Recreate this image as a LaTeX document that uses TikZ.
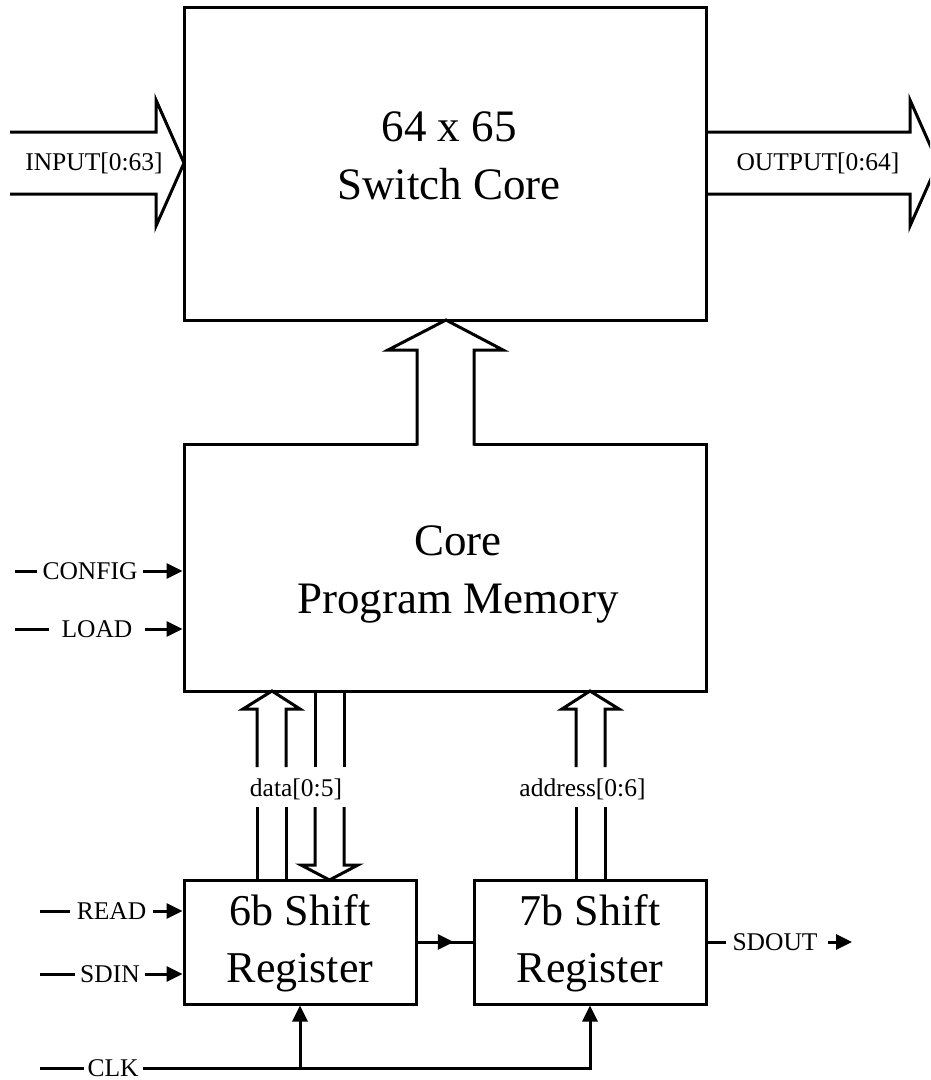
\documentclass[tikz,border=0pt]{standalone}
\usepackage{fontspec}
\setmainfont{Liberation Serif}
\usetikzlibrary{arrows.meta,calc}
\begin{document}
\begin{tikzpicture}[x=1pt,y=-1pt,line width=3pt,
  bigbox/.style={draw,minimum width=522pt,inner sep=0pt},
  regbox/.style={draw,minimum width=232pt,minimum height=124pt,inner sep=0pt},
  bigtxt/.style={font=\fontsize{45}{58}\selectfont,align=center,inner sep=0pt},
  regtxt/.style={font=\fontsize{44}{57}\selectfont,align=center,inner sep=0pt},
  lbl/.style={font=\fontsize{25.5}{30}\selectfont,inner ysep=0pt,inner xsep=4.5pt},
  tip/.style={-{Triangle[length=16pt,width=15pt]}},
  fat/.style={line join=miter}]
\clip (0,0) rectangle (930,1080);
% blocks
\node[bigbox,minimum height=313pt] (sw) at (445,163.5) {};
\node[bigtxt] (swt) at (449,156) {64 x 65\\Switch Core};
\node[bigbox,minimum height=247pt] (mem) at (445,567.5) {};
\node[bigtxt] (memt) at (458,574) {Core\\Program Memory};
\node[regbox] (r6) at (300,942) {};
\node[regtxt] (r6t) at (300,943) {6b Shift\\Register};
\node[regbox] (r7) at (590,942) {};
\node[regtxt] (r7t) at (590,943) {7b Shift\\Register};
% fat input / output arrows
\draw[fat] (10,132) -- (156,132) -- (156,100) -- (184,163) -- (156,226) -- (156,194) -- (10,194);
\node[lbl] (inl) at (94,163) {INPUT[0:63]};
\draw[fat] (706,132) -- (910,132) -- (910,100) -- (938,163) -- (910,226) -- (910,194) -- (706,194);
\node[lbl] (outl) at (818,163) {OUTPUT[0:64]};
% fat arrow memory -> switch core
\fill[white] (417,446) -- (417,350) -- (388,350) -- (446,320) -- (503,350) -- (474,350) -- (474,446) -- cycle;
\draw[fat] (417,445.5) -- (417,350) -- (388,350) -- (446,320) -- (503,350) -- (474,350) -- (474,445.5);
% data bus
\node[lbl] (dl) at (296,789) {data[0:5]};
\draw[fat] (257,767) -- (257,709) -- (243,709) -- (272,691) -- (300,709) -- (286,709) -- (286,767);
\draw (257,807) -- (257,880) (286,807) -- (286,880);
\draw (315,767) -- (315,691) (344,767) -- (344,691);
\draw[fat] (315,807) -- (315,865) -- (301,865) -- (329.5,880) -- (358,865) -- (344,865) -- (344,807);
% address bus
\node[lbl] (al) at (582.5,789) {address[0:6]};
\draw[fat] (576,767) -- (576,709) -- (562,709) -- (590,691) -- (619,709) -- (605,709) -- (605,767);
\draw (576,807) -- (576,880) (605,807) -- (605,880);
% control inputs
\node[lbl] (cfg) at (90,571) {CONFIG};
\coordinate (cfg0) at (15,571);
\draw (cfg0) -- (cfg.west);
\draw[tip] (cfg.east) -- (cfg -| mem.west);
\node[lbl,inner xsep=11pt] (load) at (97,629) {LOAD};
\coordinate (load0) at (15,629);
\draw (load0) -- (load.west);
\draw[tip] (load.east) -- (load -| mem.west);
\node[lbl,inner xsep=5pt] (read) at (111.5,911) {READ};
\coordinate (read0) at (40,911);
\draw (read0) -- (read.west);
\draw[tip] (read.east) -- (read -| r6.west);
\node[lbl,inner xsep=4pt] (sdin) at (110,974) {SDIN};
\coordinate (sdin0) at (40,974);
\draw (sdin0) -- (sdin.west);
\draw[tip] (sdin.east) -- (sdin -| r6.west);
\node[lbl,inner xsep=2.5pt] (clk) at (113,1068) {CLK};
\coordinate (clk0) at (40,1068);
\draw (clk0) -- (clk.west);
\draw[tip] (clk.east) -| (r7.south);
\coordinate (c6) at (r6.south |- clk);
\draw[tip] (c6) -- (r6.south);
% register chain
\draw (r6.east) -- (r7.west);
\draw[tip] (r6.east) -- ($(r6.east)!0.66!(r7.west)$);
\node[lbl,inner xsep=5pt] (sdout) at (775,942) {SDOUT};
\draw (r7.east) -- (sdout.west);
\coordinate (so0) at (828,942);
\coordinate (so1) at (852,942);
\draw[tip] (so0) -- (so1);
\end{tikzpicture}
\end{document}
